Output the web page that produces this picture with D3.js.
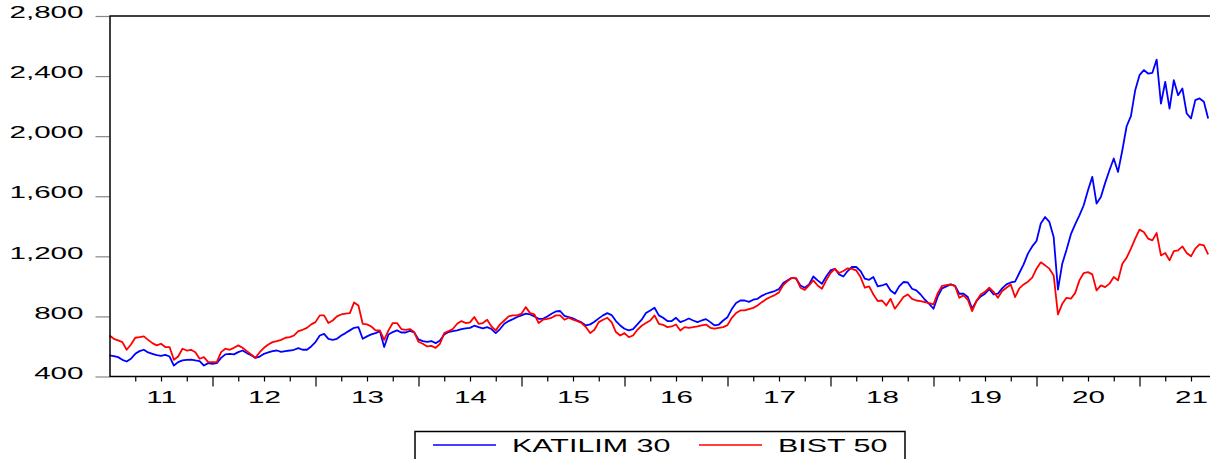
<!DOCTYPE html>
<html>
<head>
    <title>KATILIM 30 vs BIST 50</title>
    <script src="https://d3js.org/d3.v7.min.js"></script>
    <style>
        body {
            margin: 0;
            background: #fff;
            font-family: "Liberation Sans", Arial, sans-serif;
        }
        .line {
            fill: none;
            stroke-width: 1.8;
            stroke-linejoin: round;
        }
        text {
            fill: #000;
        }
    </style>
</head>
<body>
    <div id="chart"></div>

    <script>
        // half-monthly readings, first point = start of 2011
        const startYear = 2011;
        const perYear = 24;

        const katilim30 = [
            540, 536, 529, 511, 500, 518, 551, 569, 578, 560,
            551, 542, 538, 544, 533, 473, 496, 507, 511, 513,
            507, 502, 473, 489, 484, 489, 524, 547, 551, 547,
            562, 573, 556, 542, 524, 533, 551, 560, 569, 573,
            564, 569, 573, 578, 589, 578, 578, 600, 629, 673,
            684, 651, 644, 651, 673, 689, 707, 724, 729, 651,
            667, 680, 689, 702, 596,
            680, 696, 707, 693, 693, 704, 693, 647, 636, 631,
            636, 622, 640, 680, 696, 702, 707, 716, 720, 724,
            738, 729, 720, 729, 716, 689, 716, 751, 769, 782,
            796, 807, 818, 813, 800, 784, 784, 800, 818, 833,
            836, 804, 796, 787, 773, 760, 740, 747, 764, 787,
            807, 822, 809, 769, 740, 718, 707, 716, 747, 778,
            822, 840, 858, 807,
            791, 769, 769, 791, 762, 773, 786, 773, 762, 773,
            782, 762, 740, 746, 773, 795, 849, 889, 906, 906,
            897, 911, 917, 937, 951, 960, 969, 982, 1022, 1040,
            1057, 1051, 1006, 991, 1013, 1066, 1040, 1017, 1066, 1106,
            1117, 1080, 1066, 1102, 1129, 1129, 1102, 1051, 1044, 1062,
            1000, 1006, 1017, 973, 951, 1000, 1029, 1026, 984, 973,
            946, 911, 884, 851,
            933, 987, 1000, 1013, 1004, 951, 951, 929, 851, 902,
            933, 951, 982, 946, 951, 987, 1013, 1026, 1031, 1089,
            1146, 1218, 1266, 1302, 1418, 1462, 1429, 1329, 978, 1151,
            1244, 1346, 1413, 1473, 1540, 1640, 1729, 1551, 1595, 1689,
            1773, 1851, 1762, 1906, 2066, 2133, 2306, 2406, 2440, 2417,
            2422, 2510, 2217, 2362, 2184, 2373, 2273, 2317, 2151, 2118,
            2240, 2251, 2229, 2118
        ];

        const bist50 = [
            673, 651, 640, 629, 578, 613, 658, 662, 667, 644,
            622, 607, 618, 596, 596, 511, 533, 585, 573, 578,
            562, 518, 529, 496, 496, 496, 562, 585, 578, 591,
            607, 591, 569, 547, 524, 562, 591, 613, 629, 636,
            644, 658, 662, 673, 702, 711, 724, 747, 762, 807,
            807, 756, 773, 800, 813, 818, 822, 893, 873, 751,
            747, 733, 707, 707, 644,
            707, 756, 756, 716, 711, 716, 696, 631, 618, 600,
            604, 591, 618, 689, 702, 716, 751, 769, 756, 760,
            796, 751, 756, 778, 733, 707, 747, 773, 800, 807,
            807, 818, 862, 822, 813, 756, 778, 784, 791, 807,
            807, 778, 791, 778, 769, 756, 729, 689, 711, 762,
            778, 791, 762, 696, 673, 689, 662, 673, 711, 738,
            756, 773, 807, 751,
            744, 729, 733, 746, 706, 729, 724, 729, 733, 740,
            746, 724, 718, 724, 729, 742, 791, 822, 840, 840,
            849, 857, 873, 895, 915, 929, 942, 960, 1009, 1035,
            1057, 1055, 991, 977, 1006, 1040, 1006, 984, 1040, 1089,
            1117, 1089, 1102, 1120, 1117, 1106, 1062, 991, 1000, 946,
            902, 906, 873, 917, 851, 889, 929, 946, 917, 906,
            902, 895, 889, 880,
            955, 1004, 1009, 1013, 1004, 924, 940, 911, 835, 902,
            946, 964, 991, 964, 924, 969, 991, 1013, 929, 987,
            1013, 1031, 1058, 1118, 1160, 1140, 1118, 1073, 813, 884,
            924, 918, 955, 1040, 1089, 1095, 1080, 973, 1007, 995,
            1018, 1062, 1040, 1151, 1191, 1251, 1318, 1378, 1362, 1318,
            1306, 1355, 1206, 1222, 1173, 1235, 1240, 1266, 1222, 1200,
            1251, 1280, 1273, 1213
        ];

        const yTicks = [400, 800, 1200, 1600, 2000, 2400, 2800];
        const years = [2011, 2012, 2013, 2014, 2015, 2016, 2017, 2018, 2019, 2020, 2021];
        const yearLabels = ["11", "12", "13", "14", "15", "16", "17", "18", "19", "20", "21"];

        const seriesNames = ["KATILIM 30", "BIST 50"];
        const seriesColors = ["#0000ff", "#ff0000"];

        const W = 1210, H = 459;
        const margin = { left: 109.5, right: 1211, top: 16, bottom: 376.5 };
        const stretch = 1.74; // the glyphs in the picture are drawn wide

        const svg = d3.select("#chart")
            .append("svg")
            .attr("width", W)
            .attr("height", H);

        const x = d3.scaleLinear()
            .domain([2011, 2021.7])
            .range([margin.left, margin.left + 10.7 * 103]);

        const y = d3.scaleLinear()
            .domain([400, 2800])
            .range([margin.bottom, margin.top]);

        // y axis with grey ticks
        const yAxis = svg.append("g")
            .attr("transform", `translate(${margin.left},0)`)
            .call(d3.axisLeft(y).tickValues(yTicks).tickSize(14).tickFormat(d3.format(",")));
        yAxis.select(".domain").remove();
        yAxis.selectAll(".tick line").attr("stroke", "#888").attr("stroke-width", 1.2);
        yAxis.selectAll(".tick text")
            .attr("x", -26 / stretch)
            .attr("dy", "0.1em")
            .attr("transform", `scale(${stretch},1)`)
            .style("font-size", "17px")
            .style("font-family", "'Liberation Sans', Arial, sans-serif");

        // x axis: quarter ticks, year ticks, year labels in the middle
        const quarters = [];
        years.forEach(yr => [0.25, 0.5, 0.75].forEach(q => quarters.push(yr + q)));

        const minor = svg.append("g")
            .attr("transform", `translate(0,${margin.bottom})`)
            .call(d3.axisBottom(x).tickValues(quarters.filter(q => q < 2021.7)).tickSize(5).tickFormat(""));
        minor.select(".domain").remove();
        minor.selectAll(".tick line").attr("stroke", "#000").attr("stroke-width", 1.2);

        const major = svg.append("g")
            .attr("transform", `translate(0,${margin.bottom})`)
            .call(d3.axisBottom(x).tickValues(years.slice(1)).tickSize(10).tickFormat(""));
        major.select(".domain").remove();
        major.selectAll(".tick line").attr("stroke", "#000").attr("stroke-width", 1.2);

        const labels = svg.append("g")
            .attr("transform", `translate(0,${margin.bottom})`)
            .call(d3.axisBottom(x).tickValues(years.map(d => d + 0.5)).tickSize(0)
                .tickFormat((d, i) => yearLabels[i]));
        labels.select(".domain").remove();
        labels.selectAll(".tick text")
            .attr("y", 26.5)
            .attr("dy", 0)
            .attr("transform", `scale(${stretch},1)`)
            .style("font-size", "17px")
            .style("font-family", "'Liberation Sans', Arial, sans-serif");

        // lines
        const line = d3.line()
            .x((d, i) => x(startYear + i / perYear))
            .y(d => y(d));

        svg.append("path")
            .attr("class", "line")
            .attr("d", line(katilim30))
            .attr("stroke", seriesColors[0]);

        svg.append("path")
            .attr("class", "line")
            .attr("d", line(bist50))
            .attr("stroke", seriesColors[1]);

        // frame
        svg.append("rect")
            .attr("x", margin.left + 0.5)
            .attr("y", margin.top)
            .attr("width", margin.right - margin.left)
            .attr("height", margin.bottom - margin.top)
            .attr("fill", "none")
            .attr("stroke", "#000")
            .attr("stroke-width", 1.5);

        // legend box at the bottom, partly cut by the picture edge
        const legend = svg.append("g").attr("transform", "translate(415,431.5)");
        legend.append("rect")
            .attr("width", 490)
            .attr("height", 40)
            .attr("fill", "#fff")
            .attr("stroke", "#000")
            .attr("stroke-width", 1.5);

        const itemX = [18, 284];
        seriesNames.forEach((name, i) => {
            const g = legend.append("g").attr("transform", `translate(${itemX[i]},13.5)`);
            g.append("line")
                .attr("x1", 0).attr("x2", 63)
                .attr("stroke", seriesColors[i])
                .attr("stroke-width", 1.5);
            g.append("text")
                .attr("transform", `translate(79,6.5) scale(${stretch},1)`)
                .style("font-size", "17.5px")
                .text(name);
        });
    </script>
</body>
</html>
